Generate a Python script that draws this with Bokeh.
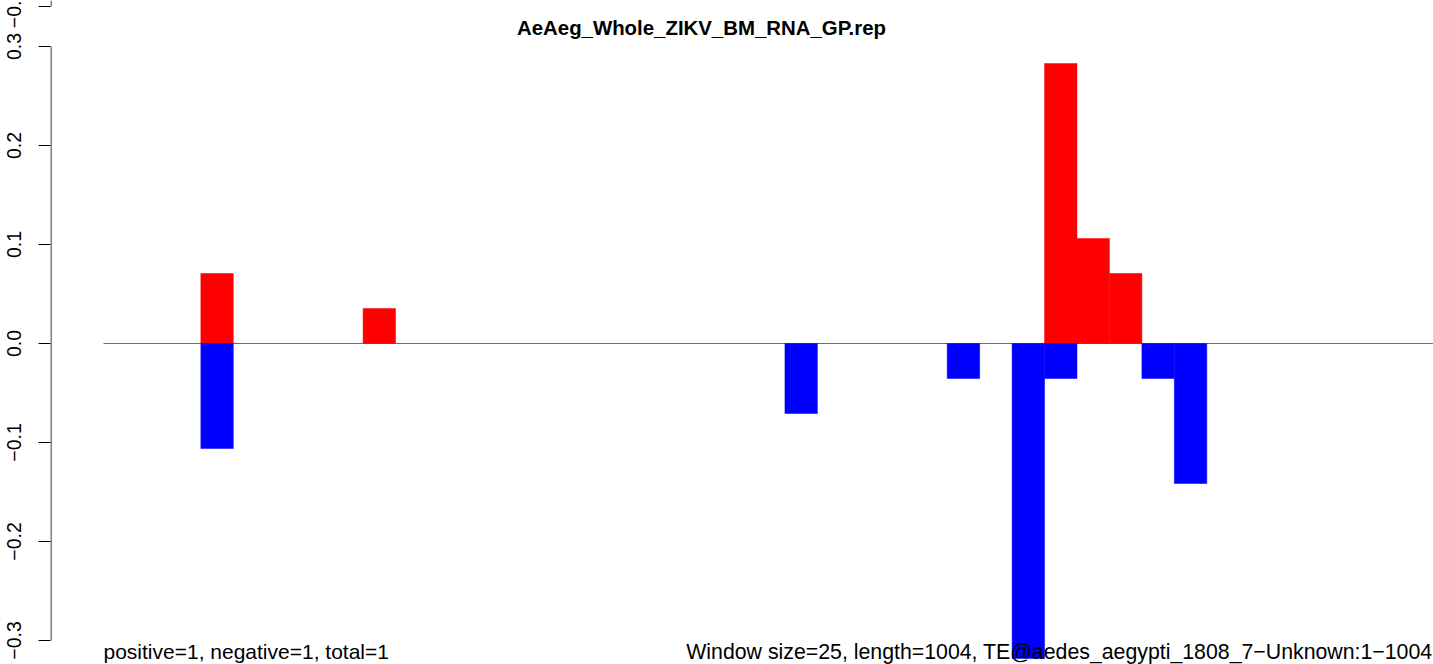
from bokeh.plotting import figure
from bokeh.models import Range1d, FixedTicker
from bokeh.core.properties import value
from bokeh.embed import file_html
from bokeh.resources import INLINE

# ---------------- data ----------------
chart_title = "AeAeg_Whole_ZIKV_BM_RNA_GP.rep"
window_size = 25
seq_length = 1004
pos_bins = [3, 8, 29, 30, 31]
pos_vals = [0.0707, 0.0354, 0.2828, 0.1061, 0.0707]
neg_bins = [3, 21, 26, 28, 29, 32, 33]
neg_vals = [-0.1061, -0.0707, -0.0354, -0.3182, -0.0354, -0.0354, -0.1414]
y_ticks = [-0.3, -0.2, -0.1, 0.0, 0.1, 0.2, 0.3]
y_tick_labels = ["\u22120.3", "\u22120.2", "\u22120.1", "0.0", "0.1", "0.2", "0.3"]
top_cut_label = "\u22120."   # neighbouring panel's label, cut by the top edge
left_note = "positive=1, negative=1, total=1"
right_note = "Window size=25, length=1004, TE@aedes_aegypti_1808_7\u2212Unknown:1\u22121004"

# ---------------- layout constants ----------------
W, H = 1433, 664
FRAME_LEFT = 50          # px (page) where the plot frame starts
BORDER = 60              # canvas border reserved for the axis
SHIFT = BORDER - FRAME_LEFT
X0_PX = 103              # px of position 0
XPX = 1.298              # px per base
Y0_PX = 343              # px of value 0
YPX = 990.0              # px per unit value
FONT = "Liberation Sans"

def px_x(px):
    return (px - X0_PX) / XPX

def px_y(py):
    return (Y0_PX - py) / YPX

x_range = Range1d(px_x(FRAME_LEFT), px_x(W))
y_range = Range1d(px_y(H), px_y(0))

p = figure(width=W + SHIFT, height=H, x_range=x_range, y_range=y_range,
           output_backend="svg", toolbar_location=None,
           x_axis_location=None,
           min_border_left=BORDER, min_border_right=0,
           min_border_top=0, min_border_bottom=0,
           margin=(0, 0, 0, -SHIFT))
p.grid.visible = False
p.outline_line_color = None
p.background_fill_color = "white"
p.border_fill_color = "white"

# upper neighbouring panel's lowest tick peeks in at the top
top_tick = px_y(6)
ya = p.yaxis[0]
ya.ticker = FixedTicker(ticks=y_ticks + [top_tick], minor_ticks=[])
overrides = {t: l for t, l in zip(y_ticks, y_tick_labels)}
overrides[top_tick] = top_cut_label
ya.major_label_overrides = overrides
ya.axis_line_color = None
ya.major_tick_out = 12
ya.major_tick_in = 0
ya.minor_tick_out = 0
ya.minor_tick_in = 0
ya.major_tick_line_color = "black"
ya.major_tick_line_width = 1
ya.major_label_orientation = "vertical"
ya.major_label_standoff = 18
ya.major_label_text_font = FONT
ya.major_label_text_font_size = "19.5px"
ya.major_label_text_color = "black"

# axis line spanning only the tick range (R style)
ax_x = x_range.start + 0.5 / XPX
p.segment(x0=[ax_x, ax_x], x1=[ax_x, ax_x],
          y0=[y_ticks[0], top_tick], y1=[y_ticks[-1], y_range.end],
          line_color="black", line_width=1)

# zero baseline
p.segment(x0=[0], x1=[x_range.end + 10], y0=[0], y1=[0],
          line_color="#6e6e6e", line_width=1)

# bars
p.quad(left=[b * window_size for b in pos_bins],
       right=[(b + 1) * window_size for b in pos_bins],
       bottom=0, top=pos_vals,
       fill_color="#FF0000", line_color="#FF0000", line_width=0.5)
p.quad(left=[b * window_size for b in neg_bins],
       right=[(b + 1) * window_size for b in neg_bins],
       bottom=0, top=neg_vals,
       fill_color="#0000FF", line_color="#0000FF", line_width=0.5)

# title
p.text(x=[px_x(701)], y=[px_y(27)], text=[chart_title],
       text_align="center", text_baseline="alphabetic",
       text_font=value(FONT), text_font_style="bold",
       text_font_size="20.4px", text_color="black")

# bottom notes
p.text(x=[0], y=[px_y(651)], text=[left_note],
       text_align="left", text_baseline="alphabetic",
       text_font=value(FONT), text_font_size="21px", text_color="black")
p.text(x=[px_x(1432)], y=[px_y(651)], text=[right_note],
       text_align="right", text_baseline="alphabetic",
       text_font=value(FONT), text_font_size="21.3px", text_color="black")

open("out.html", "w").write(file_html(p, INLINE))
